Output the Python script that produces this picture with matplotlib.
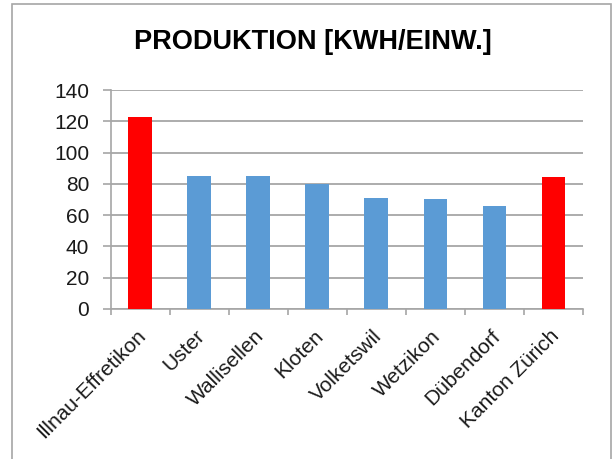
import matplotlib
matplotlib.use("Agg")
import matplotlib.pyplot as plt
from matplotlib.patches import Rectangle
import matplotlib.transforms as mtransforms

categories = ["Illnau-Effretikon", "Uster", "Wallisellen", "Kloten", "Volketswil",
              "Wetzikon", "Dübendorf", "Kanton Zürich"]
values = [122.7, 85.0, 85.0, 80.0, 70.8, 70.1, 66.0, 84.4]
highlight = [True, False, False, False, False, False, False, True]
yticks = [0, 20, 40, 60, 80, 100, 120, 140]
title = "PRODUKTION [KWH/EINW.]"

W, H = 616, 459
fig = plt.figure(figsize=(W / 100, H / 100), dpi=100)
fig.patch.set_facecolor("white")

# outer chart frame
fig.add_artist(Rectangle((11.5 / W, -0.05), (611 - 11.5) / W, 1 - 4.5 / H + 0.05,
                         transform=fig.transFigure, fill=False,
                         edgecolor="#a6a6a6", linewidth=1.2))

left, right, top, bottom = 110.5, 583, 90, 309
ax = fig.add_axes([left / W, 1 - bottom / H, (right - left) / W, (bottom - top) / H])

colors = ["#FF0000" if h else "#5B9BD5" for h in highlight]
x = list(range(len(categories)))
ax.bar(x, values, width=0.4, color=colors, zorder=3)

ax.set_xlim(-0.5, len(categories) - 0.5)
ax.set_ylim(0, 140)
ax.set_yticks(yticks)
ax.set_yticklabels([str(v) for v in yticks], fontsize=15, family="Liberation Sans",
                   color="#1a1a1a")
ax.yaxis.grid(True, color="#a6a6a6", linewidth=1.3, zorder=0)
ax.set_axisbelow(True)

ax.set_xticks([i - 0.5 for i in range(len(categories) + 1)], minor=True)
ax.set_xticks(x)
ax.set_xticklabels(categories, rotation=45, ha="right", va="top",
                   rotation_mode="anchor", fontsize=15, family="Liberation Sans",
                   color="#1a1a1a")
ax.tick_params(axis="x", which="major", length=0, pad=12.5)
ax.tick_params(axis="x", which="minor", length=4.3, color="#a6a6a6", width=1.2)
ax.tick_params(axis="y", length=5.8, color="#a6a6a6", width=1.2, pad=9.5)
for lbl in ax.get_xticklabels():
    lbl.set_transform(lbl.get_transform() + mtransforms.ScaledTranslation(-0.04, 0, fig.dpi_scale_trans))

for s in ["top", "right"]:
    ax.spines[s].set_visible(False)
for s in ["left", "bottom"]:
    ax.spines[s].set_color("#a6a6a6")
    ax.spines[s].set_linewidth(1.2)

fig.text(313 / W, 1 - 42 / H, title, ha="center", va="center", fontsize=19.5,
         fontweight="bold", family="Liberation Sans", color="black")

fig.savefig("out.png", dpi=100)
